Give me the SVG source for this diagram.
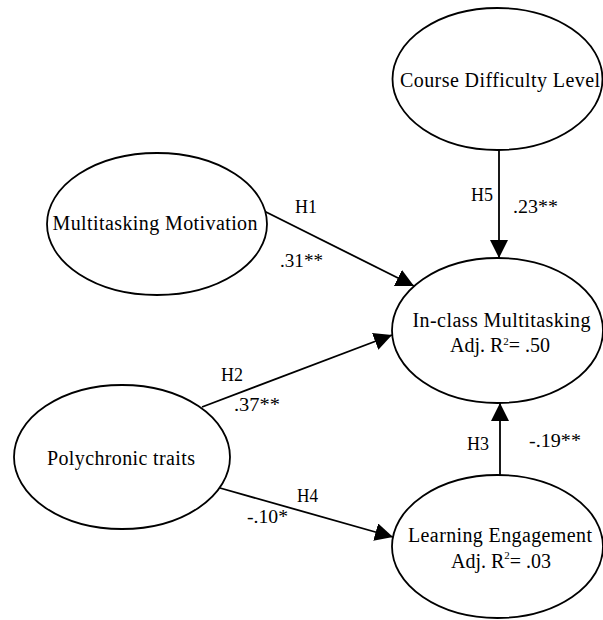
<svg xmlns="http://www.w3.org/2000/svg" width="603" height="620" viewBox="0 0 603 620">
<defs>
<style>
.node{fill:#fff;stroke:#000;stroke-width:1.8}
.t{font-family:"Liberation Serif","Times New Roman",serif;font-size:20px;fill:#000}
.l{font-family:"Liberation Serif","Times New Roman",serif;font-size:18px;fill:#000}
.sup{font-size:11px}
.edge{stroke:#000;stroke-width:1.8;fill:none;marker-end:url(#ah)}
</style>
<marker id="ah" markerUnits="userSpaceOnUse" markerWidth="18" markerHeight="18" viewBox="0 0 16 16" refX="16" refY="8" orient="auto">
<path d="M0,0 L16,8 L0,16 Z" fill="#000"/>
</marker>
</defs>
<rect width="603" height="620" fill="#fff"/>
<g id="connectors">
<line class="edge" x1="265" y1="211.5" x2="414" y2="286"/>
<line class="edge" x1="202" y1="407" x2="392" y2="335"/>
<line class="edge" x1="220" y1="488" x2="393" y2="537"/>
<line class="edge" x1="500" y1="475" x2="500" y2="403"/>
<line class="edge" x1="499" y1="150" x2="499" y2="258"/>
</g>
<g id="labels">
<text class="l" x="295" y="213" textLength="22" lengthAdjust="spacingAndGlyphs">H1</text>
<text class="l" x="280" y="267" textLength="43" lengthAdjust="spacingAndGlyphs">.31**</text>
<text class="l" x="221" y="381" textLength="22" lengthAdjust="spacingAndGlyphs">H2</text>
<text class="l" x="234" y="411" textLength="46" lengthAdjust="spacingAndGlyphs">.37**</text>
<text class="l" x="297" y="501.5" textLength="21" lengthAdjust="spacingAndGlyphs">H4</text>
<text class="l" x="247" y="522.5" textLength="41" lengthAdjust="spacingAndGlyphs">-.10*</text>
<text class="l" x="467" y="450" textLength="22" lengthAdjust="spacingAndGlyphs">H3</text>
<text class="l" x="529" y="446.5" textLength="52" lengthAdjust="spacingAndGlyphs">-.19**</text>
<text class="l" x="471" y="200.5" textLength="22" lengthAdjust="spacingAndGlyphs">H5</text>
<text class="l" x="513" y="213" textLength="45" lengthAdjust="spacingAndGlyphs">.23**</text>
</g>
<g id="course-difficulty">
<ellipse class="node" cx="497.5" cy="79" rx="105" ry="71"/>
<text class="t" x="400" y="86.5" textLength="200" lengthAdjust="spacing">Course Difficulty Level</text>
</g>
<g id="multitasking-motivation">
<ellipse class="node" cx="157" cy="224" rx="110" ry="71"/>
<text class="t" x="52.5" y="230" textLength="205" lengthAdjust="spacing">Multitasking Motivation</text>
</g>
<g id="in-class-multitasking">
<ellipse class="node" cx="497.5" cy="330.5" rx="105.5" ry="72.5"/>
<text class="t" x="412.5" y="326.5" textLength="178" lengthAdjust="spacing">In-class Multitasking</text>
<text class="t" x="450" y="351.5">Adj. R<tspan class="sup" dy="-7">2</tspan><tspan dy="7">= .50</tspan></text>
</g>
<g id="polychronic-traits">
<ellipse class="node" cx="122" cy="457" rx="108" ry="72"/>
<text class="t" x="47" y="465" textLength="148" lengthAdjust="spacing">Polychronic traits</text>
</g>
<g id="learning-engagement">
<ellipse class="node" cx="497.5" cy="546.5" rx="105.5" ry="71.5"/>
<text class="t" x="408" y="542" textLength="184" lengthAdjust="spacing">Learning Engagement</text>
<text class="t" x="451" y="568">Adj. R<tspan class="sup" dy="-9">2</tspan><tspan dy="9">= .03</tspan></text>
</g>
</svg>
